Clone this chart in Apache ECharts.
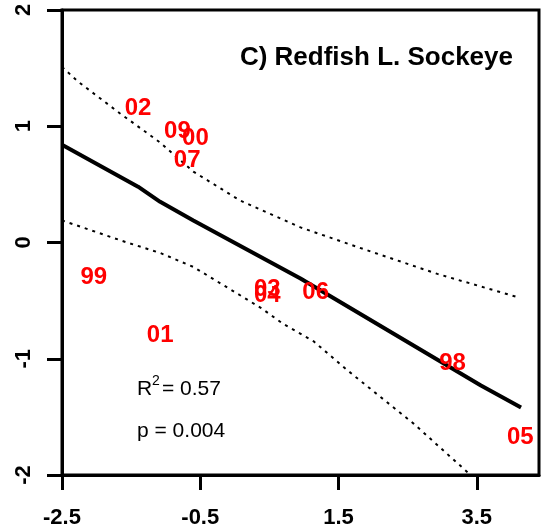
<!DOCTYPE html>
<html>
<head>
<meta charset="utf-8">
<script src="https://cdn.jsdelivr.net/npm/echarts@6/dist/echarts.min.js"></script>
<style>
  html, body { margin: 0; padding: 0; background: #fff; }
  #chart { width: 542px; height: 531px; }
</style>
</head>
<body>
<div id="chart"></div>
<script>
// Brood years plotted as text labels
const yearLabels = ['02', '09', '00', '07', '99', '01', '03', '04', '06', '98', '05'];
const yearX = [-1.40, -0.83, -0.57, -0.69, -2.04, -1.08, 0.47, 0.47, 1.17, 3.15, 4.13];
const yearY = [1.155, 0.952, 0.899, 0.703, -0.296, -0.80, -0.402, -0.452, -0.43, -1.038, -1.678];

// Fitted line
const fitX = [-2.5, -1.40, -1.08, -0.60, 0.95, 3.56, 4.14];
const fitY = [0.84, 0.48, 0.35, 0.19, -0.31, -1.23, -1.42];

// Upper confidence band
const upperX = [-2.5, -2.27, -1.66, -1.08, -0.60, 0.08, 0.95, 1.78, 2.93, 4.09];
const upperY = [1.51, 1.385, 1.11, 0.86, 0.61, 0.36, 0.13, -0.04, -0.27, -0.47];

// Lower confidence band
const lowerX = [-2.5, -1.56, -1.08, -0.60, 0.37, 0.70, 1.14, 1.63, 2.59, 3.41];
const lowerY = [0.19, 0.00, -0.09, -0.21, -0.56, -0.70, -0.85, -1.10, -1.56, -2.0];

// Axis ticks
const xTicks = [-2.5, -0.5, 1.5, 3.5];
const yTicks = [-2, -1, 0, 1, 2];

const titleText = 'C) Redfish L. Sockeye';
const r2Text = '0.57';
const pText = '0.004';

const FONT = '"Liberation Sans", Arial, Helvetica, sans-serif';

const zip = (xs, ys) => xs.map((x, i) => [x, ys[i]]);

const chart = echarts.init(document.getElementById('chart'), null, { renderer: 'canvas' });

chart.setOption({
  animation: false,
  backgroundColor: '#fff',
  grid: {
    left: 62, right: 3, top: 10, bottom: 56,
    show: true, borderColor: '#000', borderWidth: 3, backgroundColor: 'transparent'
  },
  xAxis: {
    type: 'value',
    min: -2.5,
    max: 4.4,
    splitLine: { show: false },
    axisLine: { show: true, onZero: false, lineStyle: { color: '#000', width: 3 } },
    axisTick: { show: true, length: 15, customValues: xTicks, lineStyle: { color: '#000', width: 3 } },
    axisLabel: {
      customValues: xTicks,
      margin: 32,
      color: '#000',
      fontWeight: 'bold',
      fontSize: 22,
      fontFamily: FONT,
      formatter: v => v.toFixed(1)
    }
  },
  yAxis: {
    type: 'value',
    min: yTicks[0],
    max: yTicks[yTicks.length - 1],
    interval: 1,
    splitLine: { show: false },
    axisLine: { show: true, onZero: false, lineStyle: { color: '#000', width: 3 } },
    axisTick: { show: true, length: 15, lineStyle: { color: '#000', width: 3 } },
    axisLabel: {
      rotate: 90,
      margin: 27,
      color: '#000',
      fontWeight: 'bold',
      fontSize: 22,
      fontFamily: FONT,
      formatter: v => String(v)
    }
  },
  graphic: [
    {
      type: 'text', x: 513, y: 58, z: 10,
      style: { text: titleText, font: 'bold 26px ' + FONT, fill: '#000', align: 'right', verticalAlign: 'middle' }
    },
    {
      type: 'text', x: 137, y: 389, z: 10,
      style: { text: 'R', font: '21px ' + FONT, fill: '#000', align: 'left', verticalAlign: 'middle' }
    },
    {
      type: 'text', x: 152, y: 381, z: 10,
      style: { text: '2', font: '14px ' + FONT, fill: '#000', align: 'left', verticalAlign: 'middle' }
    },
    {
      type: 'text', x: 162, y: 389, z: 10,
      style: { text: '= ' + r2Text, font: '21px ' + FONT, fill: '#000', align: 'left', verticalAlign: 'middle' }
    },
    {
      type: 'text', x: 137, y: 431, z: 10,
      style: { text: 'p = ' + pText, font: '21px ' + FONT, fill: '#000', align: 'left', verticalAlign: 'middle' }
    }
  ],
  series: [
    {
      type: 'line',
      data: zip(fitX, fitY),
      symbol: 'none',
      lineStyle: { color: '#000', width: 4 },
      z: 3
    },
    {
      type: 'line',
      data: zip(upperX, upperY),
      symbol: 'none',
      lineStyle: { color: '#000', width: 2, type: [3, 5] },
      z: 3
    },
    {
      type: 'line',
      data: zip(lowerX, lowerY),
      symbol: 'none',
      lineStyle: { color: '#000', width: 2, type: [3, 5] },
      z: 3
    },
    {
      type: 'scatter',
      data: yearLabels.map((lab, i) => [yearX[i], yearY[i], lab]),
      symbolSize: 0,
      itemStyle: { opacity: 1 },
      z: 5,
      label: {
        show: true,
        position: 'inside',
        formatter: p => p.value[2],
        color: '#ff0000',
        opacity: 1,
        fontWeight: 'bold',
        fontSize: 24,
        fontFamily: FONT
      }
    }
  ]
});
</script>
</body>
</html>
